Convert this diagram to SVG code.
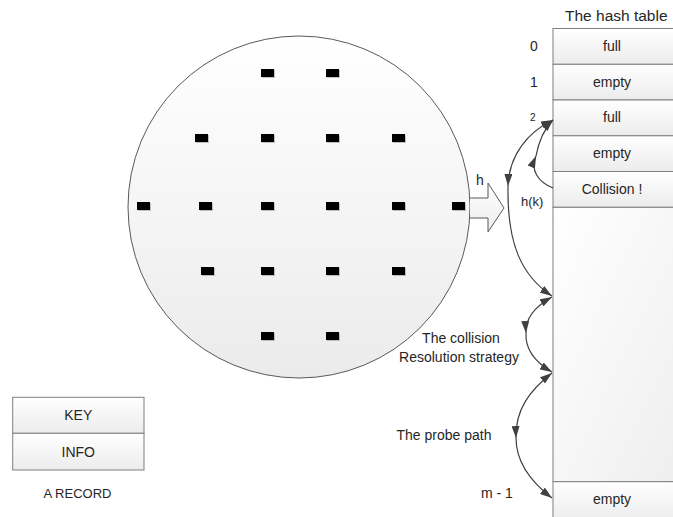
<svg xmlns="http://www.w3.org/2000/svg" width="673" height="517" viewBox="0 0 673 517">
<defs>
<linearGradient id="gCell" x1="0" y1="0" x2="0" y2="1"><stop offset="0" stop-color="#ffffff"/><stop offset="1" stop-color="#ececec"/></linearGradient>
<linearGradient id="gBig" x1="0" y1="0" x2="1" y2="1"><stop offset="0" stop-color="#ffffff"/><stop offset="1" stop-color="#eeeeee"/></linearGradient>
<linearGradient id="gCircle" x1="0" y1="0" x2="0" y2="1"><stop offset="0" stop-color="#ffffff"/><stop offset="1" stop-color="#ebebeb"/></linearGradient>
<marker id="ah" viewBox="0 0 12 8" refX="12" refY="4" markerWidth="12" markerHeight="8" markerUnits="userSpaceOnUse" orient="auto-start-reverse"><path d="M0,0 L12,4 L0,8 z" fill="#404040"/></marker>
</defs>
<style>
text{font-family:"Liberation Sans",Arial,sans-serif;fill:#262626;font-size:14px}
.mid{text-anchor:middle}
.s13{font-size:13px}
.s10{font-size:10px}
.title{font-size:15.5px}
.cell{fill:url(#gCell);stroke:#7f7f7f;stroke-width:1}
.dot{fill:#000}
.sh{fill:#9a9a9a;opacity:0.6}
.con{fill:none;stroke:#404040;stroke-width:1.2}
</style>

<g id="universe">
<circle cx="299" cy="207" r="171" fill="url(#gCircle)" stroke="#595959" stroke-width="1"/>
<g id="keys">
<rect class="sh" x="262" y="70" width="13" height="8"/><rect class="dot" x="261" y="69" width="13" height="8"/>
<rect class="sh" x="327" y="70" width="13" height="8"/><rect class="dot" x="326" y="69" width="13" height="8"/>
<rect class="sh" x="196" y="135" width="13" height="8"/><rect class="dot" x="195" y="134" width="13" height="8"/>
<rect class="sh" x="262" y="135" width="13" height="8"/><rect class="dot" x="261" y="134" width="13" height="8"/>
<rect class="sh" x="327" y="135" width="13" height="8"/><rect class="dot" x="326" y="134" width="13" height="8"/>
<rect class="sh" x="393" y="135" width="13" height="8"/><rect class="dot" x="392" y="134" width="13" height="8"/>
<rect class="sh" x="138" y="203" width="13" height="8"/><rect class="dot" x="137" y="202" width="13" height="8"/>
<rect class="sh" x="200" y="203" width="13" height="8"/><rect class="dot" x="199" y="202" width="13" height="8"/>
<rect class="sh" x="262" y="203" width="13" height="8"/><rect class="dot" x="261" y="202" width="13" height="8"/>
<rect class="sh" x="327" y="203" width="13" height="8"/><rect class="dot" x="326" y="202" width="13" height="8"/>
<rect class="sh" x="393" y="203" width="13" height="8"/><rect class="dot" x="392" y="202" width="13" height="8"/>
<rect class="sh" x="453" y="203" width="13" height="8"/><rect class="dot" x="452" y="202" width="13" height="8"/>
<rect class="sh" x="202" y="268" width="13" height="8"/><rect class="dot" x="201" y="267" width="13" height="8"/>
<rect class="sh" x="262" y="268" width="13" height="8"/><rect class="dot" x="261" y="267" width="13" height="8"/>
<rect class="sh" x="327" y="268" width="13" height="8"/><rect class="dot" x="326" y="267" width="13" height="8"/>
<rect class="sh" x="393" y="268" width="13" height="8"/><rect class="dot" x="392" y="267" width="13" height="8"/>
<rect class="sh" x="262" y="333" width="13" height="8"/><rect class="dot" x="261" y="332" width="13" height="8"/>
<rect class="sh" x="327" y="333" width="13" height="8"/><rect class="dot" x="326" y="332" width="13" height="8"/>
</g>
</g>

<g id="hash-arrow">
<path d="M470,198 L488,198 L488,183 L504,208 L488,232 L488,218 L470,218" fill="url(#gCell)" stroke="#595959" stroke-width="1"/>
<text x="476" y="185">h</text>
</g>

<g id="hash-table">
<text class="title" x="565" y="21">The hash table</text>
<rect class="cell" x="553" y="28.5" width="130" height="35.8"/>
<rect class="cell" x="553" y="64.3" width="130" height="35.7"/>
<rect class="cell" x="553" y="100" width="130" height="35.8"/>
<rect class="cell" x="553" y="135.8" width="130" height="35.7"/>
<rect class="cell" x="553" y="171.5" width="130" height="35.8"/>
<rect x="553" y="207.3" width="130" height="274.4" fill="url(#gBig)" stroke="#7f7f7f" stroke-width="1"/>
<rect class="cell" x="553" y="481.7" width="130" height="40"/>
<text class="mid" x="612" y="51">full</text>
<text class="mid" x="612" y="87">empty</text>
<text class="mid" x="612" y="122">full</text>
<text class="mid" x="612" y="158">empty</text>
<text class="mid" x="612" y="194">Collision !</text>
<text class="mid" x="612" y="504">empty</text>
<text x="530" y="51">0</text>
<text x="530" y="87">1</text>
<text class="s10" x="530" y="121">2</text>
<text class="s13" x="521" y="206">h(k)</text>
<text x="481" y="498">m - 1</text>
</g>

<g id="connectors">
<path class="con" d="M553,188 C538,182 530,170 536,156" marker-end="url(#ah)"/>
<path class="con" d="M536,156 C539,140 545,128 553,120" marker-end="url(#ah)"/>
<path class="con" d="M553,120 C528,132 509,155 508,186" marker-start="url(#ah)" marker-end="url(#ah)"/>
<path class="con" d="M508,186 C507,245 522,276 552,296" marker-end="url(#ah)"/>
<path class="con" d="M552,297 C536,306 525,318 526,333" marker-start="url(#ah)" marker-end="url(#ah)"/>
<path class="con" d="M526,333 C525,350 535,362 552,372" marker-end="url(#ah)"/>
<path class="con" d="M552,373 C530,390 515,410 516,438" marker-start="url(#ah)" marker-end="url(#ah)"/>
<path class="con" d="M516,438 C516,465 535,485 552,498" marker-end="url(#ah)"/>
</g>

<g id="labels">
<text class="mid" x="461" y="343">The collision</text>
<text class="mid" x="459" y="362">Resolution strategy</text>
<text class="mid" x="444" y="440">The probe path</text>
</g>

<g id="record">
<rect class="cell" x="12.7" y="397.3" width="131.3" height="36"/>
<rect class="cell" x="12.7" y="433.3" width="131.3" height="36.7"/>
<text class="mid" x="78.3" y="420">KEY</text>
<text class="mid" x="78.3" y="456.5">INFO</text>
<text class="mid s13" x="77.5" y="498">A RECORD</text>
</g>
</svg>
